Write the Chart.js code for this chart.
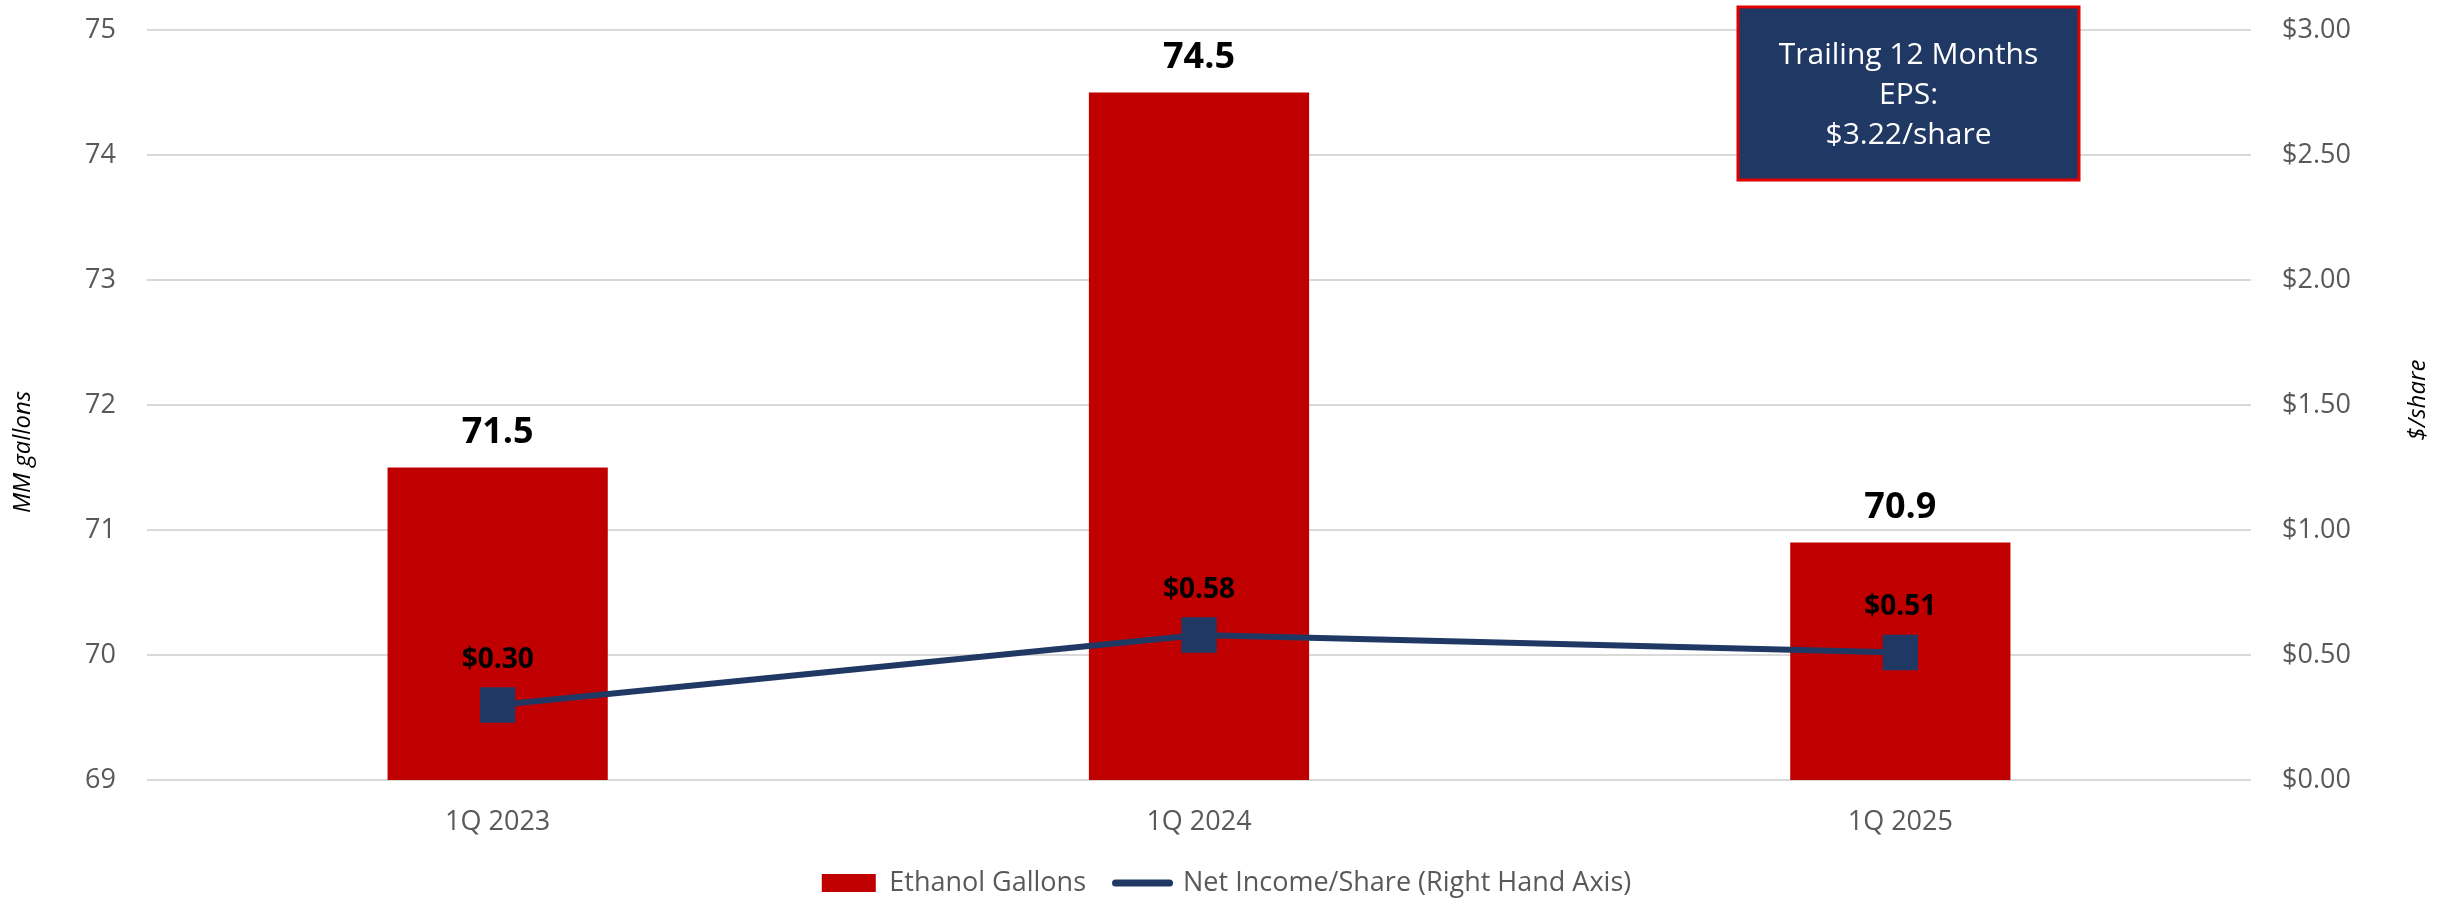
<!DOCTYPE html>
<html>
<head>
<meta charset="utf-8">
<script src="https://cdn.jsdelivr.net/npm/chart.js@4.4.1/dist/chart.umd.min.js"></script>
<style>
  html, body { margin: 0; padding: 0; background: #fff; }
  #wrap { width: 2453px; height: 900px; }
</style>
</head>
<body>
<div id="wrap"><canvas id="ethanol-chart" width="2453" height="900"></canvas></div>
<script>
"use strict";

const categories = ["1Q 2023", "1Q 2024", "1Q 2025"];
const ethanolGallons = [71.5, 74.5, 70.9];
const netIncomePerShare = [0.30, 0.58, 0.51];
const leftTicks = [69, 70, 71, 72, 73, 74, 75];
const rightTicks = [0, 0.5, 1, 1.5, 2, 2.5, 3];
const boxLines = ["Trailing 12 Months", "EPS:", "$3.22/share"];

const RED = "#c00000";
const NAVY = "#203864";
const GREY = "#595959";
const FONT = "'Open Sans', sans-serif";

// data labels, axis titles and the EPS box
const extras = {
    id: "extras",
    afterDatasetsDraw(chart) {
        const ctx = chart.ctx;
        const area = chart.chartArea;
        ctx.save();
        ctx.textAlign = "center";
        ctx.textBaseline = "middle";
        ctx.fillStyle = "#000";

        chart.getDatasetMeta(0).data.forEach((bar, i) => {
            ctx.font = "bold 36px " + FONT;
            ctx.fillText(ethanolGallons[i].toFixed(1), bar.x, bar.y - 35);
        });
        chart.getDatasetMeta(1).data.forEach((pt, i) => {
            ctx.font = "bold 28px " + FONT;
            ctx.fillText("$" + netIncomePerShare[i].toFixed(2), pt.x, pt.y - 45);
        });

        // axis titles
        ctx.font = "italic 24px " + FONT;
        ctx.save();
        ctx.translate(23, 452);
        ctx.rotate(-Math.PI / 2);
        ctx.fillText("MM gallons", 0, 0);
        ctx.restore();
        ctx.save();
        ctx.translate(2418, 400);
        ctx.rotate(-Math.PI / 2);
        ctx.fillText("$/share", 0, 0);
        ctx.restore();

        // trailing EPS box
        const bx = area.right - 513, by = 7, bw = 341, bh = 173;
        ctx.fillStyle = NAVY;
        ctx.fillRect(bx, by, bw, bh);
        ctx.strokeStyle = "#e00000";
        ctx.lineWidth = 3;
        ctx.strokeRect(bx, by, bw, bh);
        ctx.fillStyle = "#fff";
        ctx.font = "30px " + FONT;
        boxLines.forEach((t, i) => {
            ctx.fillText(t, bx + bw / 2, 55 + i * 40);
        });
        ctx.restore();
    }
};

const chart = new Chart(document.getElementById("ethanol-chart"), {
    data: {
        labels: categories,
        datasets: [
            {
                type: "bar",
                label: "Ethanol Gallons",
                data: ethanolGallons,
                backgroundColor: RED,
                borderWidth: 0,
                barPercentage: 0.314,
                categoryPercentage: 1.0,
                yAxisID: "y",
                order: 1,
            },
            {
                type: "line",
                label: "Net Income/Share (Right Hand Axis)",
                data: netIncomePerShare,
                borderColor: NAVY,
                backgroundColor: NAVY,
                borderWidth: 6,
                pointStyle: "rect",
                pointRadius: 25,
                pointHoverRadius: 25,
                pointBorderWidth: 0,
                pointBackgroundColor: NAVY,
                tension: 0,
                yAxisID: "y1",
                order: 0,
            },
        ],
    },
    options: {
        responsive: false,
        animation: false,
        layout: { autoPadding: false, padding: { top: 30, bottom: -6.5, left: 0, right: 0 } },
        scales: {
            x: {
                grid: { display: false, drawTicks: false },
                border: { display: false },
                ticks: { color: GREY, font: { family: FONT, size: 27 }, padding: 26 },
                afterFit(axis) { axis.height = 60; },
            },
            y: {
                position: "left",
                min: 69,
                max: 75,
                afterBuildTicks(axis) { axis.ticks = leftTicks.map(v => ({ value: v })); },
                grid: { color: "#d9d9d9", lineWidth: 2, drawTicks: false },
                border: { display: false },
                ticks: { color: GREY, font: { family: FONT, size: 27 }, padding: 31 },
                afterFit(axis) { axis.width = 147; axis.paddingTop = 0; axis.paddingBottom = 0; },
            },
            y1: {
                position: "right",
                min: 0,
                max: 3,
                afterBuildTicks(axis) { axis.ticks = rightTicks.map(v => ({ value: v })); },
                grid: { display: false, drawTicks: false },
                border: { display: false },
                ticks: {
                    color: GREY,
                    font: { family: FONT, size: 27 },
                    padding: 31,
                    callback: v => "$" + Number(v).toFixed(2),
                },
                afterFit(axis) { axis.width = 202; axis.paddingTop = 0; axis.paddingBottom = 0; },
            },
        },
        plugins: {
            legend: {
                position: "bottom",
                labels: {
                    color: GREY,
                    font: { family: FONT, size: 27 },
                    usePointStyle: true,
                    pointStyleWidth: 54,
                    boxHeight: 18,
                    padding: 29.5,
                    sort: (a, b) => a.datasetIndex - b.datasetIndex,
                    generateLabels(c) {
                        const items = Chart.defaults.plugins.legend.labels.generateLabels(c);
                        items.forEach(it => {
                            if (it.datasetIndex === 1) {
                                it.pointStyle = "line";
                                it.lineWidth = 7;
                                it.strokeStyle = NAVY;
                                it.lineCap = "round";
                            } else {
                                it.pointStyle = "rect";
                                it.lineWidth = 0;
                                it.fillStyle = RED;
                            }
                        });
                        return items;
                    },
                },
            },
            tooltip: { enabled: false },
        },
    },
    plugins: [extras],
});
</script>
</body>
</html>
